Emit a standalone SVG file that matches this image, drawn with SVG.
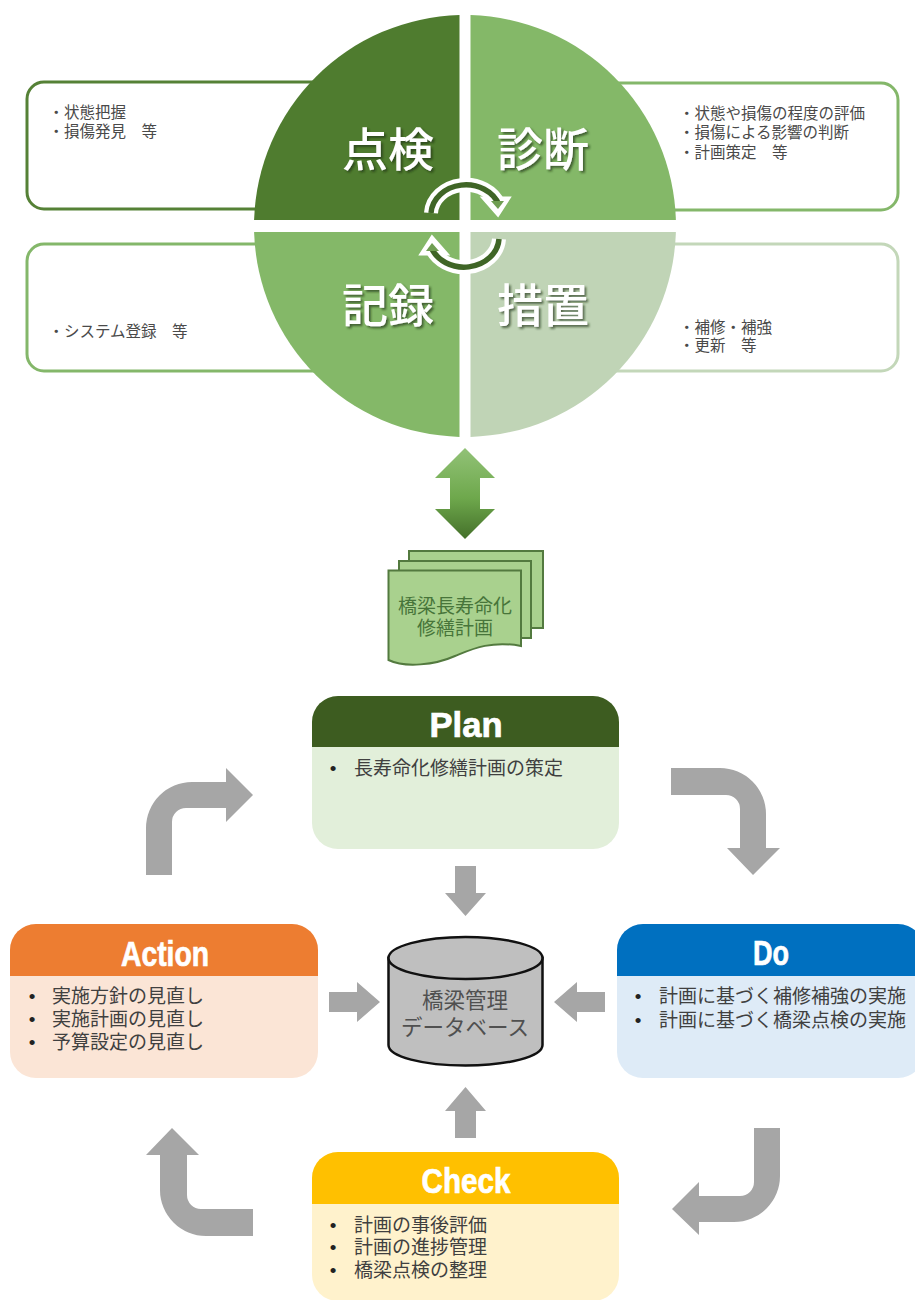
<svg xmlns="http://www.w3.org/2000/svg" width="915" height="1300" viewBox="0 0 915 1300">
<style>
text{font-family:"Noto Sans CJK JP","Noto Sans CJK SC",sans-serif}
.box{fill:#fff;stroke-width:3}
.sm{font-size:15.5px;fill:#4a4a4a}
.big{font-size:46px;font-weight:500;fill:#fff;text-anchor:middle;filter:url(#sh)}
.ti{font-family:"Liberation Sans",Arial,sans-serif;font-weight:700;font-size:35px;fill:#fff;stroke:#fff;stroke-width:.7;text-anchor:middle}
.bd{font-size:19px;fill:#404040}
.bu{font-family:"Liberation Sans",Arial,sans-serif;font-size:19px;fill:#222;text-anchor:middle}
.g{fill:#a6a6a6}
.db{font-size:21.5px;fill:#505050;text-anchor:middle}
.dt{font-size:19px;fill:#47753a;text-anchor:middle}
.doc{fill:#a9d18e;stroke:#537a3f;stroke-width:2}
</style>
<defs>
<filter id="sh" x="-10%" y="-10%" width="125%" height="125%"><feDropShadow dx="2" dy="2" stdDeviation="1.2" flood-color="#1c3010" flood-opacity=".65"/></filter>
<linearGradient id="dbl" x1="0" y1="0" x2="0" y2="1"><stop offset="0" stop-color="#92c277"/><stop offset=".55" stop-color="#6ea84c"/><stop offset="1" stop-color="#44702a"/></linearGradient>
<g id="cyc">
<path d="M431 213A35 30 0 0 1 499 205" fill="none" stroke="#fff" stroke-width="14"/>
<path d="M483 198H509L498 215Z" fill="#fff" stroke="#fff" stroke-width="3"/>
<path d="M431 213A35 30 0 0 1 499 205" fill="none" stroke="#3f6526" stroke-width="5.500"/>
<path d="M491 201H504L498 209Z" fill="#6f9e52"/>
</g>
</defs>

<g id="box-tenken"><rect class="box" x="27" y="82" width="330" height="127" rx="17" stroke="#558136"/><text class="sm"><tspan x="48.500" y="118">・状態把握</tspan><tspan x="48.500" y="137">・損傷発見　等</tspan></text></g>
<g id="box-shindan"><rect class="box" x="580" y="83" width="318" height="127" rx="17" stroke="#84b76a"/></g>
<g id="box-kiroku"><rect class="box" x="27" y="244" width="330" height="127" rx="17" stroke="#84b76a"/><text class="sm" x="48.500" y="337">・システム登録　等</text></g>
<g id="box-sochi"><rect class="box" x="580" y="244" width="318" height="127" rx="17" stroke="#c3d7b9"/></g>

<g id="quad-tenken"><path d="M459.5 220H254.1A211 211 0 0 1 459.5 15.1Z" fill="#4f7c2f"/><text class="big" x="388" y="166">点検</text></g>
<g id="quad-shindan"><path d="M470.5 220H675.9A211 211 0 0 0 470.5 15.1Z" fill="#84b868"/><text class="big" x="543" y="166">診断</text></g>
<g id="quad-kiroku"><path d="M459.5 232H254.1A211 211 0 0 0 459.5 436.9Z" fill="#84b868"/><text class="big" x="388" y="322">記録</text></g>
<g id="quad-sochi"><path d="M470.5 232H675.9A211 211 0 0 1 470.5 436.9Z" fill="#c0d4b6"/><text class="big" x="543" y="322">措置</text></g>

<g id="text-right"><text class="sm"><tspan x="679" y="119">・状態や損傷の程度の評価</tspan><tspan x="679" y="138">・損傷による影響の判断</tspan><tspan x="679" y="158">・計画策定　等</tspan></text><text class="sm"><tspan x="679" y="333">・補修・補強</tspan><tspan x="679" y="351">・更新　等</tspan></text></g>

<g id="document">
<path class="doc" d="M409 551H543V628H409Z"/>
<path class="doc" d="M399 561H531V638H399Z"/>
<path class="doc" d="M388.5 570.5H521V646C490 640 470 650 455 656C435 665 405 668 388.5 660Z"/>
<text class="dt"><tspan x="455" y="613">橋梁長寿命化</tspan><tspan x="455" y="635">修繕計画</tspan></text>
</g>

<g id="plan"><rect x="312" y="696" width="307" height="153" rx="26" fill="#e2efda"/><path d="M312 747V722A26 26 0 0 1 338 696H593A26 26 0 0 1 619 722V747Z" fill="#3d5c20"/><text class="ti" x="466" y="737" textLength="73" lengthAdjust="spacingAndGlyphs">Plan</text><text class="bu" x="333" y="775">•</text><text class="bd" x="354" y="775">長寿命化修繕計画の策定</text></g>

<g id="action"><rect x="10" y="924" width="308" height="154" rx="26" fill="#fbe5d6"/><path d="M10 976V950A26 26 0 0 1 36 924H292A26 26 0 0 1 318 950V976Z" fill="#ed7d31"/><text class="ti" x="165" y="966" textLength="88" lengthAdjust="spacingAndGlyphs">Action</text><text class="bu"><tspan x="32" y="1003">•</tspan><tspan x="32" y="1026">•</tspan><tspan x="32" y="1049">•</tspan></text><text class="bd"><tspan x="52" y="1003">実施方針の見直し</tspan><tspan x="52" y="1026">実施計画の見直し</tspan><tspan x="52" y="1049">予算設定の見直し</tspan></text></g>

<g id="do"><rect x="617" y="924" width="307" height="154" rx="26" fill="#deebf7"/><path d="M617 976V950A26 26 0 0 1 643 924H898A26 26 0 0 1 924 950V976Z" fill="#0070c0"/><text class="ti" x="771" y="965" textLength="36" lengthAdjust="spacingAndGlyphs">Do</text><text class="bu"><tspan x="638" y="1003">•</tspan><tspan x="638" y="1027">•</tspan></text><text class="bd"><tspan x="659" y="1003">計画に基づく補修補強の実施</tspan><tspan x="659" y="1027">計画に基づく橋梁点検の実施</tspan></text></g>

<g id="check"><rect x="312" y="1152" width="307" height="149" rx="26" fill="#fff2cc"/><path d="M312 1204V1178A26 26 0 0 1 338 1152H593A26 26 0 0 1 619 1178V1204Z" fill="#ffc000"/><text class="ti" x="466" y="1193" textLength="89" lengthAdjust="spacingAndGlyphs">Check</text><text class="bu"><tspan x="333" y="1232">•</tspan><tspan x="333" y="1254">•</tspan><tspan x="333" y="1277">•</tspan></text><text class="bd"><tspan x="354" y="1232">計画の事後評価</tspan><tspan x="354" y="1254">計画の進捗管理</tspan><tspan x="354" y="1277">橋梁点検の整理</tspan></text></g>

<g id="database"><path d="M388.5 958V1045C388.5 1056.600 423 1065.500 465.500 1065.500S542.500 1056.600 542.500 1045V958Z" fill="#bfbfbf" stroke="#111" stroke-width="2.500"/><ellipse cx="465.500" cy="958" rx="77" ry="21" fill="#bfbfbf" stroke="#111" stroke-width="2.500"/><text class="db"><tspan x="465" y="1008">橋梁管理</tspan><tspan x="465" y="1035">データベース</tspan></text></g>

<g id="connectors">
<use href="#cyc"/>
<use href="#cyc" transform="rotate(180 465 226)"/>
<path d="M465 448L495 478H480V509H495L465 539L435 509H450V478H435Z" fill="url(#dbl)"/>
<path class="g" d="M146 875V828A46 46 0 0 1 192 782H226V768L253 795L226 822V808H186A14 14 0 0 0 172 822V875Z"/>
<path class="g" d="M671 768H720A46 46 0 0 1 766 814V848H780L753 875L727 848H740V809A14 14 0 0 0 726 795H671Z"/>
<path class="g" d="M780 1128V1176A46 46 0 0 1 734 1222H699V1235L672 1209L699 1182V1196H740A14 14 0 0 0 754 1182V1128Z"/>
<path class="g" d="M253 1209H201A14 14 0 0 1 187 1195V1155H199L172 1128L146 1155H160V1190A46 46 0 0 0 206 1236H253Z"/>
<path class="g" d="M455 866H476V893H486L465.500 916L445 893H455Z"/>
<path class="g" d="M455 1138H476V1111H486L465.500 1087L445 1111H455Z"/>
<path class="g" d="M329 992H357V982L380 1002L357 1022V1012H329Z"/>
<path class="g" d="M605 992H577V982L554 1002L577 1022V1012H605Z"/>
</g>
</svg>
